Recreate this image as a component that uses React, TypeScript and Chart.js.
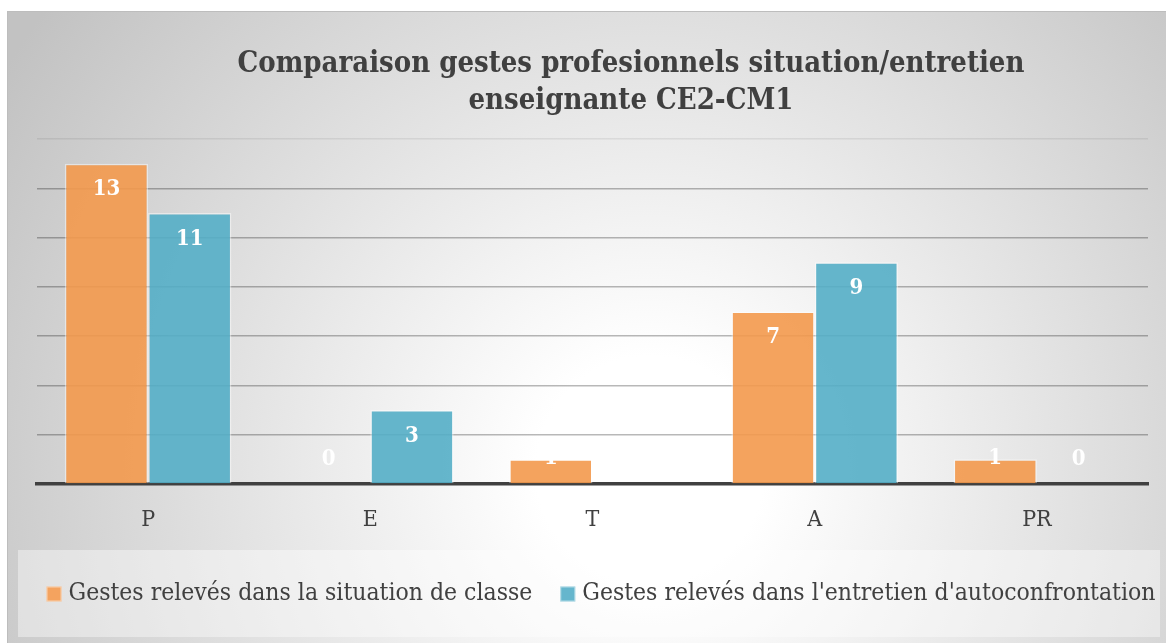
import React, { useEffect, useRef } from "react";
import { Chart, registerables } from "chart.js";

Chart.register(...registerables);

const categories = ["P", "E", "T", "A", "PR"];
const seriesNames = [
  "Gestes relevés dans la situation de classe",
  "Gestes relevés dans l'entretien d'autoconfrontation",
];
const classeValues = [13, 0, 1, 7, 1];
const entretienValues = [11, 3, 0, 9, 0];
const titleLines = [
  "Comparaison gestes profesionnels situation/entretien",
  "enseignante CE2-CM1",
];

const SERIF = "'DejaVu Serif Condensed', 'Liberation Serif', serif";
const TEXT = "#404040";
const ORANGE = "rgba(243,153,77,0.9)";
const TEAL = "rgba(84,174,199,0.9)";
const ORANGE_SOLID = "#F4A35F";
const TEAL_SOLID = "#65B6CD";

const backgroundPlugin = {
  id: "bgPanel",
  beforeDraw(chart: any) {
    const { ctx, width, height } = chart;
    ctx.save();
    ctx.fillStyle = "#ffffff";
    ctx.fillRect(0, 0, width, height);
    const g = ctx.createRadialGradient(650, 470, 0, 650, 470, 760);
    g.addColorStop(0, "#ffffff");
    g.addColorStop(0.15, "#ffffff");
    g.addColorStop(1, "#c2c2c2");
    ctx.fillStyle = g;
    ctx.fillRect(7, 11, width - 7, height - 11);
    ctx.strokeStyle = "#bdbdbd";
    ctx.lineWidth = 1;
    ctx.strokeRect(7.5, 11.5, width - 7, height - 11);
    // legend panel
    ctx.fillStyle = "rgba(255,255,255,0.4)";
    ctx.fillRect(18, 550, 1142, 87);
    ctx.restore();
  },
};

const overlayPlugin = {
  id: "overlayText",
  afterDatasetsDraw(chart: any) {
    const { ctx } = chart;
    ctx.save();
    ctx.fillStyle = "#ffffff";
    ctx.font = `bold 22px ${SERIF}`;
    ctx.textAlign = "center";
    ctx.textBaseline = "middle";
    chart.data.datasets.forEach((ds: any, di: number) => {
      const meta = chart.getDatasetMeta(di);
      meta.data.forEach((bar: any, i: number) => {
        const y = Math.min(bar.y + 26, bar.base - 25);
        ctx.fillText(String(ds.data[i]), bar.x, y);
      });
    });
    ctx.restore();
  },
  afterDraw(chart: any) {
    const { ctx } = chart;
    ctx.save();
    // title
    ctx.fillStyle = TEXT;
    ctx.font = `bold 29px ${SERIF}`;
    ctx.textAlign = "center";
    ctx.textBaseline = "middle";
    ctx.fillText(titleLines[0], 631, 64);
    ctx.fillText(titleLines[1], 631, 101);
    // legend
    ctx.font = `24.5px ${SERIF}`;
    ctx.textAlign = "left";
    const colors = [ORANGE_SOLID, TEAL_SOLID];
    const box = 15;
    const gap = 7;
    const itemGap = 28;
    const widths = seriesNames.map((n) => ctx.measureText(n).width);
    const total =
      widths.reduce((a, b) => a + b, 0) + seriesNames.length * (box + gap) + itemGap;
    let x = 601 - total / 2;
    const cy = 594;
    seriesNames.forEach((n, i) => {
      ctx.fillStyle = colors[i];
      ctx.fillRect(x, cy - box / 2, box, box);
      ctx.strokeStyle = "rgba(255,255,255,0.5)";
      ctx.lineWidth = 1;
      ctx.strokeRect(x + 0.5, cy - box / 2 + 0.5, box - 1, box - 1);
      ctx.fillStyle = TEXT;
      ctx.fillText(n, x + box + gap, cy);
      x += box + gap + widths[i] + itemGap;
    });
    ctx.restore();
  },
};

export default function App() {
  const ref = useRef<HTMLCanvasElement>(null);
  useEffect(() => {
    if (!ref.current) return;
    const chart = new Chart(ref.current, {
      type: "bar",
      data: {
        labels: categories,
        datasets: [
          {
            label: seriesNames[0],
            data: classeValues,
            backgroundColor: ORANGE,
            borderColor: "rgba(255,255,255,0.45)",
            borderWidth: 1.5,
          },
          {
            label: seriesNames[1],
            data: entretienValues,
            backgroundColor: TEAL,
            borderColor: "rgba(255,255,255,0.45)",
            borderWidth: 1.5,
          },
        ],
      },
      options: {
        animation: false,
        responsive: false,
        maintainAspectRatio: false,
        layout: { padding: { left: 37, right: 18, top: 139, bottom: 0 } },
        datasets: { bar: { categoryPercentage: 0.75, barPercentage: 1 } },
        plugins: {
          legend: { display: false },
          title: { display: false },
          tooltip: { enabled: false },
        },
        scales: {
          x: {
            grid: { display: false, drawTicks: false },
            border: { display: true, color: "#404040", width: 3.5 },
            ticks: {
              color: TEXT,
              font: { family: SERIF, size: 23 },
              padding: 22,
            },
            afterFit: (scale: any) => {
              scale.height = 159;
            },
          },
          y: {
            min: 0,
            max: 14,
            ticks: { display: false, stepSize: 2 },
            border: { display: false },
            grid: {
              drawTicks: false,
              lineWidth: 1.5,
              color: (c: any) =>
                c.tick && c.tick.value === 14 ? "rgba(0,0,0,0.07)" : "rgba(0,0,0,0.28)",
            },
            afterFit: (scale: any) => {
              scale.width = 0;
            },
          },
        },
      },
      plugins: [backgroundPlugin, overlayPlugin],
    });
    return () => chart.destroy();
  }, []);
  return (
    <div style={{ position: "fixed", left: 0, top: 0, width: 1166, height: 643 }}>
      <canvas ref={ref} width={1166} height={643} style={{ display: "block" }} />
    </div>
  );
}
